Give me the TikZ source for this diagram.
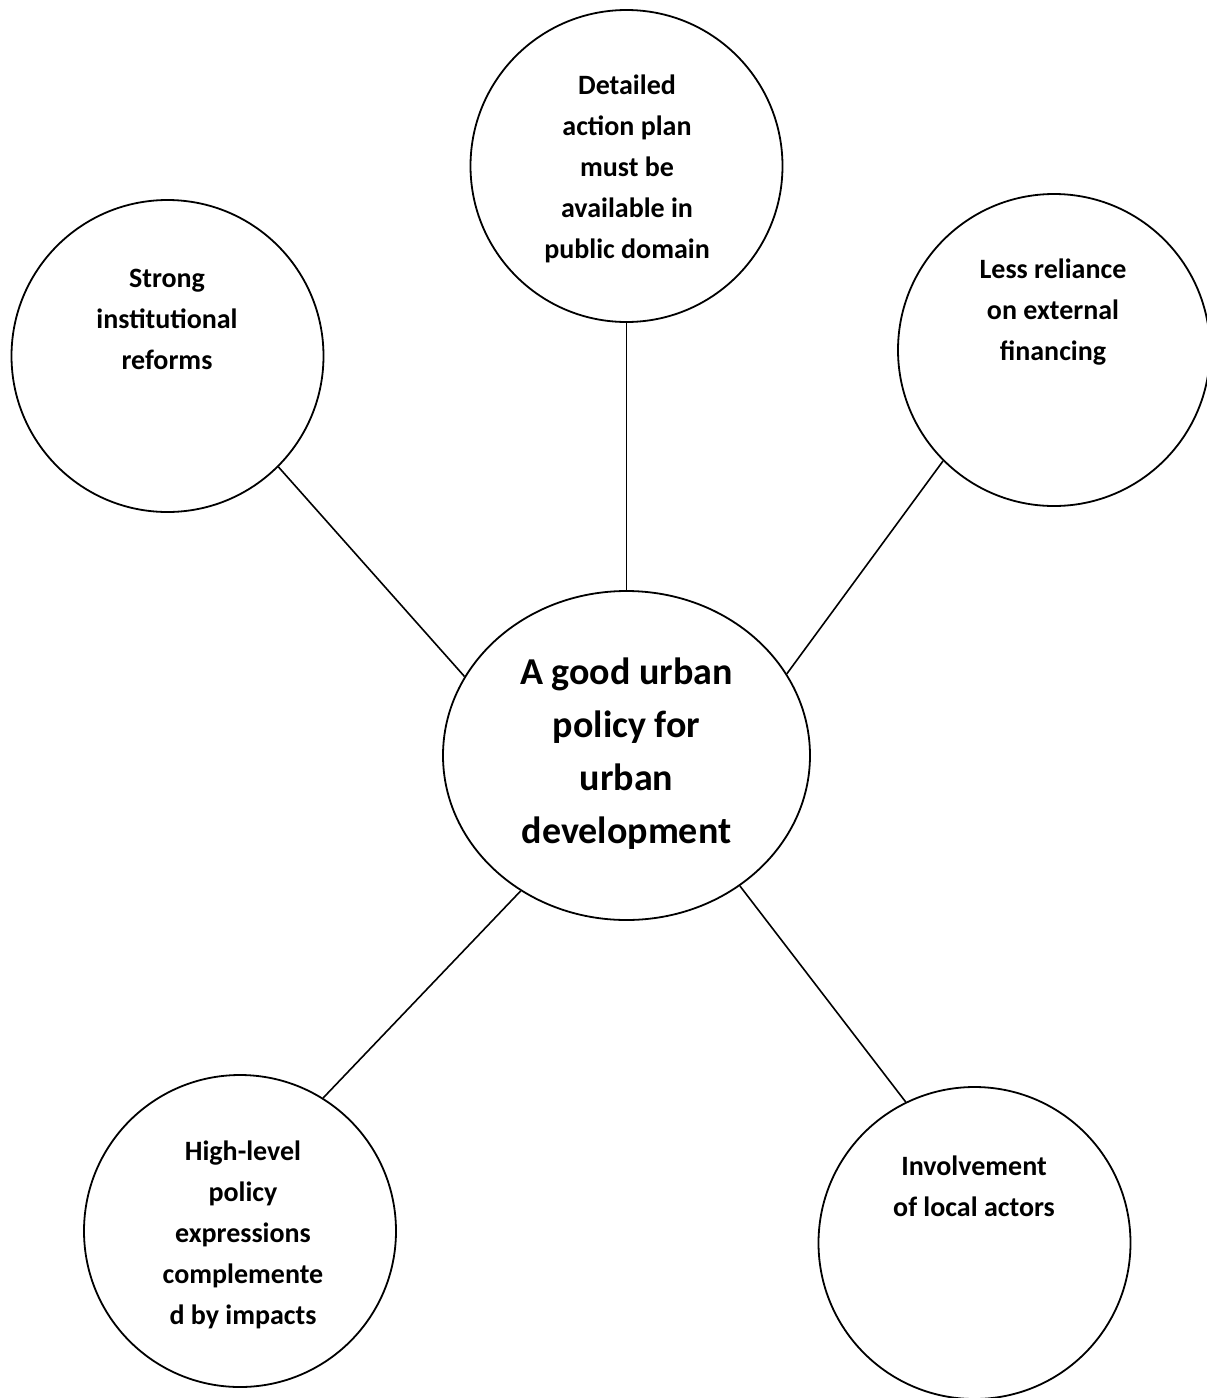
\documentclass[tikz,border=0pt]{standalone}
\usepackage{fontspec}
\setmainfont{Carlito}
\usetikzlibrary{shapes.geometric}
\begin{document}
\begin{tikzpicture}[x=1pt,y=-1pt,
  bubble/.style={draw=black,line width=1.8pt,circle,inner sep=0pt,minimum size=312pt},
  hub/.style={draw=black,line width=1.8pt,ellipse,inner sep=0pt,minimum width=367pt,minimum height=329pt},
  smalltxt/.style={align=center,font=\bfseries\fontsize{28}{41}\selectfont,inner sep=0pt},
  bigtxt/.style={align=center,font=\bfseries\fontsize{38}{53}\selectfont,inner sep=0pt},
  link/.style={line width=1.6pt}]
\useasboundingbox (0,0) rectangle (1207,1398);
\fill[white] (0,0) rectangle (1207,1398);
\node[hub] (hub) at (626.5,755.5) {};
\node[bubble] (top) at (626.5,166) {};
\node[bubble] (tl) at (167.5,356) {};
\node[bubble] (tr) at (1054,350) {};
\node[bubble] (bl) at (240,1231) {};
\node[bubble] (br) at (974.5,1243) {};
\node[bigtxt] (hubtxt) at (626.5,754) {A good urban\\policy for\\urban\\development};
\node[smalltxt] (toptxt) at (627,169) {Detailed\\action plan\\must be\\available in\\public domain};
\node[smalltxt] (tltxt) at (167,319) {Strong\\institutional\\reforms};
\node[smalltxt] (trtxt) at (1053,312) {Less reliance\\on external\\financing};
\node[smalltxt] (brtxt) at (974,1186) {Involvement\\of local actors};
\node[smalltxt] (bltxt) at (243,1235) {High-level\\policy\\expressions\\complemente\\d by impacts};
\draw[link] (tl.-45.6) -- (hub.154.4);
\draw[link] (top.south) -- (hub.north);
\draw[link] (tr.225.8) -- (hub.27.7);
\draw[link] (bl.58) -- (hub.232.1);
\draw[link] (br.116.4) -- (hub.-49.3);
\end{tikzpicture}
\end{document}
